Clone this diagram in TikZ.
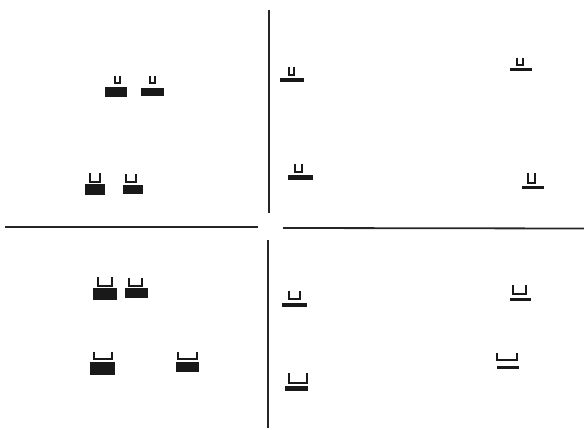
\documentclass[tikz,border=0pt]{standalone}
\begin{document}
\begin{tikzpicture}[x=1pt,y=-1pt,
  axisline/.style={line width=1.8pt,black!85},
  block/.style={fill=black!90},
  cupline/.style={line width=2.6pt,black!90,line join=miter}]
\useasboundingbox (0,0) rectangle (584,430);
% axes
\draw[axisline] (269,10) -- (269,213);
\draw[axisline] (268,240) -- (268,428);
\draw[axisline] (5,227) -- (258,227);
\draw[axisline] (283,228) -- (584,228.5);
% upper left
\fill[block] (105,87) rectangle (127,97);
\draw[cupline] (115,76) -- (115,83) -- (120,83) -- (120,76);
\fill[block] (141,88) rectangle (164,96);
\draw[cupline] (150,76) -- (150,83) -- (155,83) -- (155,76);
\fill[block] (85,184) rectangle (105,195);
\draw[cupline] (90,173) -- (90,182) -- (100,182) -- (100,173);
\fill[block] (123,185) rectangle (143,194);
\draw[cupline] (126,174) -- (126,182) -- (136,182) -- (136,174);
% upper right
\fill[block] (280,78) rectangle (304,82);
\draw[cupline] (289,67) -- (289,75) -- (294,75) -- (294,67);
\fill[block] (510,68) rectangle (532,71);
\draw[cupline] (517,58) -- (517,65) -- (523,65) -- (523,58);
\fill[block] (288,175) rectangle (313,180);
\draw[cupline] (295,164) -- (295,172) -- (302,172) -- (302,164);
\fill[block] (522,186) rectangle (544,189);
\draw[cupline] (528,173) -- (528,183) -- (535,183) -- (535,173);
% lower left
\fill[block] (93,288) rectangle (117,300);
\draw[cupline] (98,277) -- (98,286) -- (112,286) -- (112,277);
\fill[block] (125,288) rectangle (148,298);
\draw[cupline] (129,278) -- (129,286) -- (142,286) -- (142,278);
\fill[block] (90,362) rectangle (115,375);
\draw[cupline] (94,352) -- (94,359) -- (112,359) -- (112,352);
\fill[block] (176,362) rectangle (199,372);
\draw[cupline] (178,352) -- (178,359) -- (197,359) -- (197,352);
% lower right
\fill[block] (282,303) rectangle (307,307);
\draw[cupline] (289,291) -- (289,299) -- (300,299) -- (300,291);
\fill[block] (510,298) rectangle (531,301);
\draw[cupline] (513,285) -- (513,294) -- (526,294) -- (526,285);
\fill[block] (497,366) rectangle (519,369);
\draw[cupline] (497,353) -- (497,360) -- (517,360) -- (517,353);
\fill[block] (285,386) rectangle (308,391);
\draw[cupline] (289,373) -- (289,383) -- (307,383) -- (307,373);
\end{tikzpicture}
\end{document}
